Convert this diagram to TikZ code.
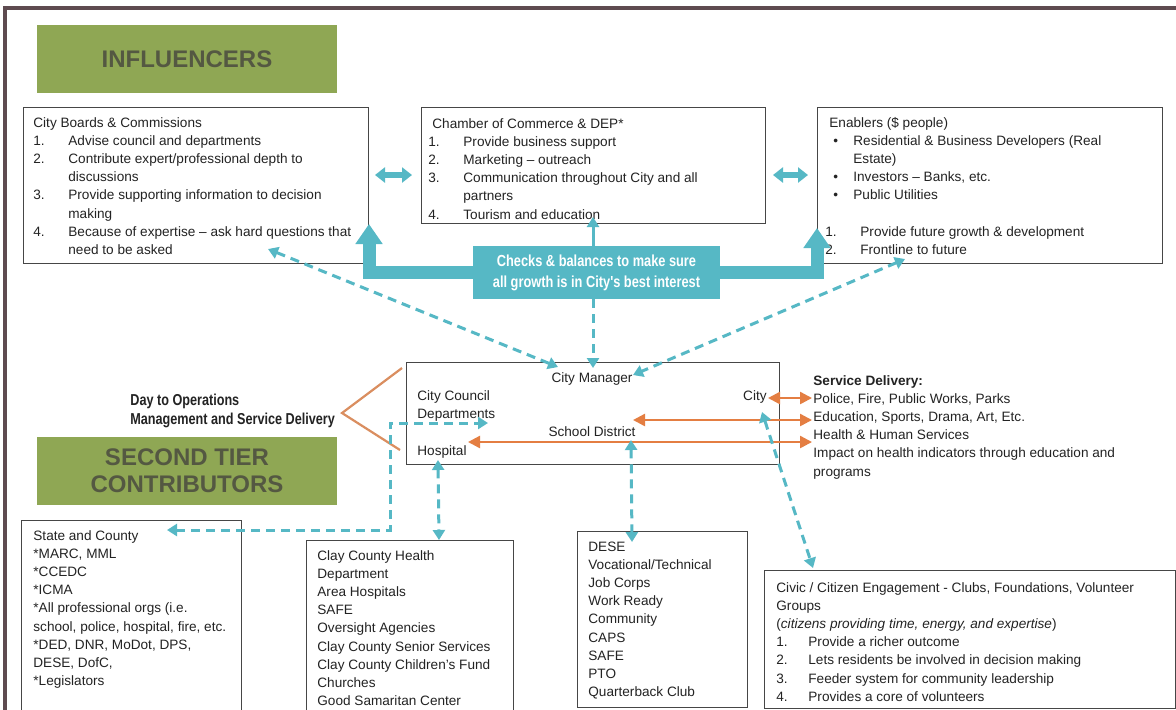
\documentclass[tikz,border=0pt]{standalone}
\usepackage{fontspec}
\setmainfont{Liberation Sans}
\newfontfamily\cond[FakeStretch=0.8]{Liberation Sans}
\usetikzlibrary{arrows.meta}
\definecolor{frm}{RGB}{94,75,80}
\definecolor{grn}{RGB}{143,167,84}
\definecolor{ttl}{RGB}{84,88,66}
\definecolor{cy}{RGB}{86,184,197}
\definecolor{org}{RGB}{228,126,66}
\definecolor{orl}{RGB}{218,142,96}
\definecolor{bx}{RGB}{70,70,70}
\definecolor{txt}{RGB}{35,35,35}
\newcommand\nb[2]{\makebox[17.5pt][l]{#1}#2}
\newcommand\cn[1]{\hspace*{17.5pt}#1}
\newcommand\bodyfont{\fontsize{6.8pt}{9.1pt}\selectfont}
\begin{document}
\begin{tikzpicture}[x=0.5pt,y=-0.5pt,
  boxed/.style={draw=bx, line width=0.7pt, inner sep=0, anchor=north west},
  body/.style={inner sep=0, anchor=base west, text=txt, font=\bodyfont},
  ttlbox/.style={fill=grn, minimum width=150pt, minimum height=34pt, inner sep=0, text=ttl, align=center, font=\bfseries\fontsize{12}{13.5}\selectfont},
  bigarr/.style={draw=cy, line width=6.5pt, -{Triangle[width=13pt,length=10pt]}},
  dbl/.style={draw=cy, line width=3pt, {Triangle[width=7.5pt,length=5pt]}-{Triangle[width=7.5pt,length=5pt]}},
  dsh/.style={draw=cy, line width=1.5pt, dash pattern=on 4.5pt off 3pt},
  tip/.style={-{Triangle[width=6pt,length=5pt]}},
  tips/.style={{Triangle[width=6pt,length=5pt]}-{Triangle[width=6pt,length=5pt]}},
  og/.style={draw=org, line width=1.2pt, {Triangle[width=6pt,length=6pt]}-{Triangle[width=6pt,length=6pt]}}
]
\useasboundingbox (0,0) rectangle (1176,709);
\clip (0,0) rectangle (1176,709);
\fill[white] (0,0) rectangle (1176,709);
% frame
\draw[frm, line width=2pt] (5,740) -- (5,8) -- (1200,8);

% titles
\node[ttlbox] (inf) at (187,59) {INFLUENCERS};
\node[ttlbox] (stc) at (187,471) {SECOND TIER\\CONTRIBUTORS};

% top boxes
\node[boxed, minimum width=172.5pt, minimum height=78pt] (cb) at (23,107) {};
\node[boxed, minimum width=172pt, minimum height=58pt] (ch) at (421,107) {};
\node[boxed, minimum width=172.5pt, minimum height=78pt] (en) at (817,107) {};

\node[body] (cbt) at (33,127) {\begin{tabular}[t]{@{}l@{}}
City Boards \& Commissions\\
\nb{1.}{Advise council and departments}\\
\nb{2.}{Contribute expert/professional depth to}\\
\cn{discussions}\\
\nb{3.}{Provide supporting information to decision}\\
\cn{making}\\
\nb{4.}{Because of expertise – ask hard questions that}\\
\cn{need to be asked}
\end{tabular}};

\node[body] (cht) at (428,128) {\begin{tabular}[t]{@{}l@{}}
\hspace*{2pt}Chamber of Commerce \& DEP*\\
\nb{1.}{Provide business support}\\
\nb{2.}{Marketing – outreach}\\
\nb{3.}{Communication throughout City and all}\\
\cn{partners}\\
\nb{4.}{Tourism and education}
\end{tabular}};

\node[body] (ent) at (825,127) {\begin{tabular}[t]{@{}l@{}}
\hspace*{2pt}Enablers (\$ people)\\
\hspace*{4pt}\makebox[10pt][l]{•}Residential \& Business Developers (Real\\
\hspace*{14pt}Estate)\\
\hspace*{4pt}\makebox[10pt][l]{•}Investors – Banks, etc.\\
\hspace*{4pt}\makebox[10pt][l]{•}Public Utilities\\
~\\
\nb{1.}{Provide future growth \& development}\\
\nb{2.}{Frontline to future}
\end{tabular}};

% double arrows between top boxes
\coordinate (d1a) at (375,175);
\coordinate (d1b) at (412,175);
\coordinate (d2a) at (773,175);
\coordinate (d2b) at (808,175);
\draw[dbl] (d1a) -- (d1b);
\draw[dbl] (d2a) -- (d2b);

% banner
\node[fill=cy, minimum width=123.5pt, minimum height=26.5pt, inner sep=0, text=white, align=center,
      font=\cond\bfseries\fontsize{8}{10.5}\selectfont] (ban) at (596.5,272.5)
      {Checks \& balances to make sure\\all growth is in City's best interest};
\coordinate (cbtip) at (369,224);
\coordinate (entip) at (817,228);
\coordinate (chtip) at (593,217);
\draw[bigarr] (ban.west) -| (cbtip);
\draw[bigarr] (ban.east) -| (entip);
\draw[draw=cy, line width=1.5pt, tip] (chtip |- ban.north) -- (chtip);

% city manager box
\node[boxed, minimum width=186.5pt, minimum height=51pt] (cmb) at (406,362) {};
\node[body, anchor=base] (cm) at (592,382) {City Manager};
\node[body] (cc) at (417,400) {\begin{tabular}[t]{@{}l@{}}City Council\\Departments\end{tabular}};
\node[body, anchor=base east] (city) at (767,400) {City};
\node[body, anchor=base] (sd) at (592,436) {School District};
\node[body] (hosp) at (417,455) {Hospital};

% day to operations
\node[inner sep=0, anchor=base west, text=txt, font=\cond\bfseries\fontsize{7.9}{9.5}\selectfont] (dto) at (130,405)
  {\begin{tabular}[t]{@{}l@{}}Day to Operations\\Management and Service Delivery\end{tabular}};
\coordinate (brv) at (342,413);
\coordinate (brt) at (402,368);
\coordinate (brb) at (400,450);
\draw[orl, line width=1.1pt] (brt) -- (brv) -- (brb);

% service delivery
\node[body] (sv) at (813,385) {\begin{tabular}[t]{@{}l@{}}
\textbf{Service Delivery:}\\
Police, Fire, Public Works, Parks\\
Education, Sports, Drama, Art, Etc.\\
Health \& Human Services\\
Impact on health indicators through education and\\
programs
\end{tabular}};

% orange arrows
\coordinate (o1a) at (768,398);
\coordinate (o1b) at (812,398);
\coordinate (o2a) at (633,420);
\coordinate (o2b) at (812,420);
\coordinate (o3a) at (468,442);
\coordinate (o3b) at (812,442);
\draw[og] (o1a) -- (o1b);
\draw[og] (o2a) -- (o2b);
\draw[og] (o3a) -- (o3b);

% bottom boxes
\node[boxed, minimum width=110pt, minimum height=110pt] (st) at (21,520) {};
\node[boxed, minimum width=103.5pt, minimum height=100pt] (cl) at (306,540) {};
\node[boxed, minimum width=85pt, minimum height=88pt] (de) at (577,531) {};
\node[boxed, minimum width=205.5pt, minimum height=69pt] (cv) at (764,570) {};

\node[body] (stt) at (33,540) {\begin{tabular}[t]{@{}l@{}}
State and County\\
{*}MARC, MML\\
{*}CCEDC\\
{*}ICMA\\
{*}All professional orgs (i.e.\\
school, police, hospital, fire, etc.\\
{*}DED, DNR, MoDot, DPS,\\
DESE, DofC,\\
{*}Legislators
\end{tabular}};

\node[body] (clt) at (317,560) {\begin{tabular}[t]{@{}l@{}}
Clay County Health\\
Department\\
Area Hospitals\\
SAFE\\
Oversight Agencies\\
Clay County Senior Services\\
Clay County Children’s Fund\\
Churches\\
Good Samaritan Center
\end{tabular}};

\node[body] (det) at (588,551) {\begin{tabular}[t]{@{}l@{}}
DESE\\
Vocational/Technical\\
Job Corps\\
Work Ready\\
Community\\
CAPS\\
SAFE\\
PTO\\
Quarterback Club
\end{tabular}};

\node[body] (cvt) at (776,592) {\begin{tabular}[t]{@{}l@{}}
Civic / Citizen Engagement - Clubs, Foundations, Volunteer\\
Groups\\
(\textit{citizens providing time, energy, and expertise})\\
\makebox[16pt][l]{1.}Provide a richer outcome\\
\makebox[16pt][l]{2.}Lets residents be involved in decision making\\
\makebox[16pt][l]{3.}Feeder system for community leadership\\
\makebox[16pt][l]{4.}Provides a core of volunteers
\end{tabular}};

% dashed connectors
\coordinate (cbq) at (268,249);
\coordinate (cmL) at (558,367);
\coordinate (cmT) at (593,368);
\coordinate (cmR) at (633,375);
\coordinate (enq) at (905,259);
\coordinate (deptip) at (488,423);
\coordinate (dcorner) at (390,423);
\coordinate (sttip) at (167,530);
\coordinate (hosptip) at (438,460);
\coordinate (cltip) at (439,540);
\coordinate (sdtip) at (631,440);
\coordinate (detip) at (632,542);
\coordinate (citytip) at (762,412);
\coordinate (cvtip) at (813,568);
\draw[dsh, tips] (cbq) -- (cmL);
\draw[dsh, tip] (cmT |- ban.south) -- (cmT);
\draw[dsh, tips] (enq) -- (cmR);
\draw[dsh, tips] (sttip) -| (dcorner) -- (deptip);
\draw[dsh, tips] (hosptip) -- (cltip);
\draw[dsh, tips] (sdtip) -- (detip);
\draw[dsh, tips] (citytip) -- (cvtip);
\end{tikzpicture}
\end{document}
